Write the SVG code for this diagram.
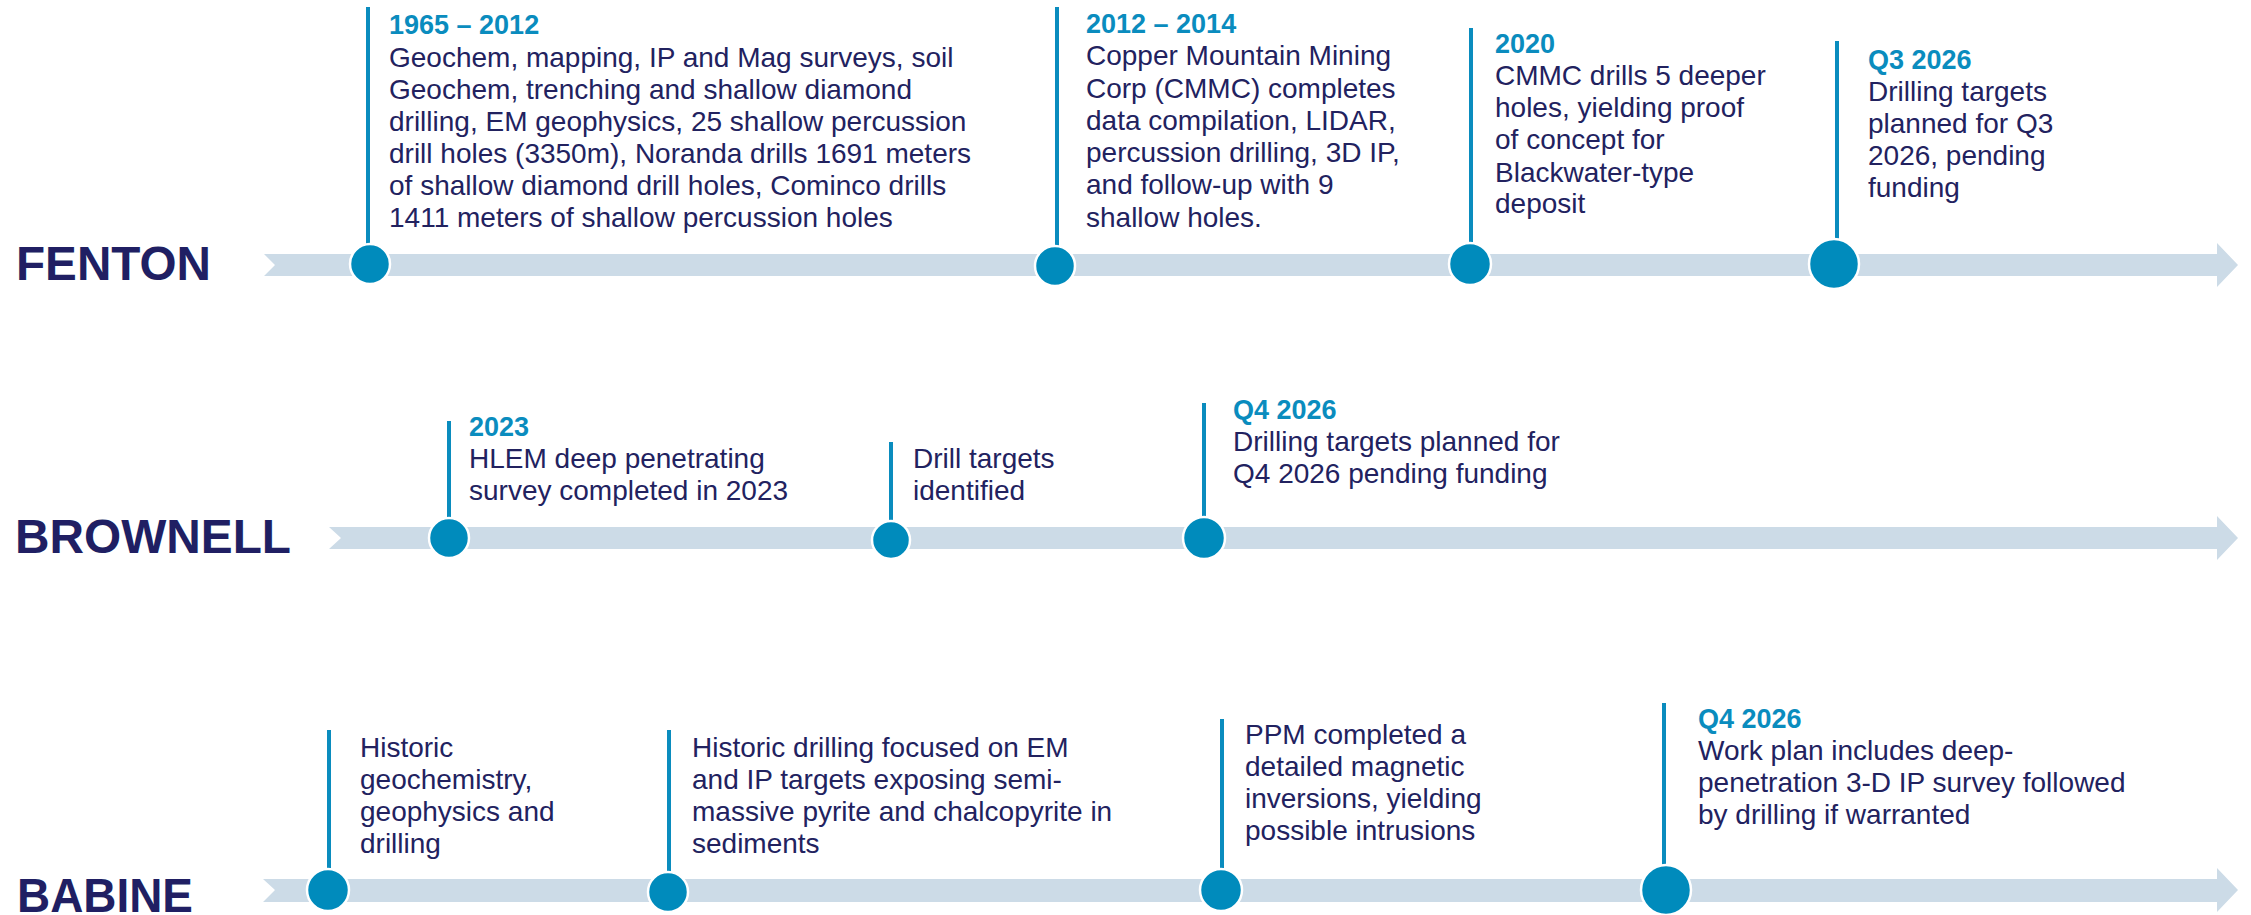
<svg xmlns="http://www.w3.org/2000/svg" width="2251" height="915" viewBox="0 0 2251 915">
<style>
.bar{fill:#CCDBE7}
.stem{stroke:#0A8CBE;stroke-width:4;fill:none}
.dot{fill:#008BBC;stroke:#FFFFFF;stroke-width:2.5}
.lbl{font-family:"Liberation Sans",Arial,sans-serif;font-weight:bold;font-size:48px;fill:#201F63}
.hd{font-family:"Liberation Sans",Arial,sans-serif;font-weight:bold;font-size:27px;fill:#0A8CBE}
.tx{font-family:"Liberation Sans",Arial,sans-serif;font-size:28px;fill:#22225F}
</style>
<rect width="2251" height="915" fill="#FFFFFF"/>
<g id="timelines">
<polygon class="bar" points="264,254 2217,254 2217,243 2238,265 2217,287 2217,276 264,276 275,265"/>
<polygon class="bar" points="329,527 2217,527 2217,516 2238,538 2217,560 2217,549 329,549 341,538"/>
<polygon class="bar" points="263,879 2217,879 2217,868 2238,890 2217,912 2217,902 263,902 275,890"/>
</g>
<g id="labels">
<text id="fenton" class="lbl" x="16" y="280" textLength="195" lengthAdjust="spacingAndGlyphs">FENTON</text>
<text id="brownell" class="lbl" x="15" y="553" textLength="276" lengthAdjust="spacingAndGlyphs">BROWNELL</text>
<text id="babine" class="lbl" x="17" y="912" textLength="176" lengthAdjust="spacingAndGlyphs">BABINE</text>
</g>
<g id="connectors">
<line class="stem" x1="368" y1="7" x2="368" y2="250"/>
<line class="stem" x1="1057" y1="7" x2="1057" y2="252"/>
<line class="stem" x1="1471" y1="28" x2="1471" y2="250"/>
<line class="stem" x1="1837" y1="41" x2="1837" y2="245"/>
<line class="stem" x1="449" y1="421" x2="449" y2="524"/>
<line class="stem" x1="891" y1="442" x2="891" y2="527"/>
<line class="stem" x1="1204" y1="403" x2="1204" y2="523"/>
<line class="stem" x1="329" y1="730" x2="329" y2="875"/>
<line class="stem" x1="669" y1="730" x2="669" y2="878"/>
<line class="stem" x1="1222" y1="719" x2="1222" y2="875"/>
<line class="stem" x1="1664" y1="703" x2="1664" y2="870"/>
</g>
<g id="fenton-1965">
<circle class="dot" cx="370" cy="264" r="20"/>
<text class="hd" x="389" y="34">1965 – 2012</text>
<text class="tx" x="389" y="67">Geochem, mapping, IP and Mag surveys, soil</text>
<text class="tx" x="389" y="99">Geochem, trenching and shallow diamond</text>
<text class="tx" x="389" y="131">drilling, EM geophysics, 25 shallow percussion</text>
<text class="tx" x="389" y="163">drill holes (3350m), Noranda drills 1691 meters</text>
<text class="tx" x="389" y="195">of shallow diamond drill holes, Cominco drills</text>
<text class="tx" x="389" y="227">1411 meters of shallow percussion holes</text>
</g>
<g id="fenton-2012">
<circle class="dot" cx="1055" cy="266" r="20"/>
<text class="hd" x="1086" y="33">2012 – 2014</text>
<text class="tx" x="1086" y="65">Copper Mountain Mining</text>
<text class="tx" x="1086" y="98">Corp (CMMC) completes</text>
<text class="tx" x="1086" y="130">data compilation, LIDAR,</text>
<text class="tx" x="1086" y="162">percussion drilling, 3D IP,</text>
<text class="tx" x="1086" y="194">and follow-up with 9</text>
<text class="tx" x="1086" y="227">shallow holes.</text>
</g>
<g id="fenton-2020">
<circle class="dot" cx="1470" cy="264" r="21"/>
<text class="hd" x="1495" y="53">2020</text>
<text class="tx" x="1495" y="85">CMMC drills 5 deeper</text>
<text class="tx" x="1495" y="117">holes, yielding proof</text>
<text class="tx" x="1495" y="149">of concept for</text>
<text class="tx" x="1495" y="182">Blackwater-type</text>
<text class="tx" x="1495" y="213">deposit</text>
</g>
<g id="fenton-q3-2026">
<circle class="dot" cx="1834" cy="264" r="25"/>
<text class="hd" x="1868" y="69">Q3 2026</text>
<text class="tx" x="1868" y="101">Drilling targets</text>
<text class="tx" x="1868" y="133">planned for Q3</text>
<text class="tx" x="1868" y="165">2026, pending</text>
<text class="tx" x="1868" y="197">funding</text>
</g>
<g id="brownell-2023">
<circle class="dot" cx="449" cy="538" r="20"/>
<text class="hd" x="469" y="436">2023</text>
<text class="tx" x="469" y="468">HLEM deep penetrating</text>
<text class="tx" x="469" y="500">survey completed in 2023</text>
</g>
<g id="brownell-targets">
<circle class="dot" cx="891" cy="540" r="19"/>
<text class="tx" x="913" y="468">Drill targets</text>
<text class="tx" x="913" y="500">identified</text>
</g>
<g id="brownell-q4-2026">
<circle class="dot" cx="1204" cy="538" r="21"/>
<text class="hd" x="1233" y="419">Q4 2026</text>
<text class="tx" x="1233" y="451">Drilling targets planned for</text>
<text class="tx" x="1233" y="483">Q4 2026 pending funding</text>
</g>
<g id="babine-historic">
<circle class="dot" cx="328" cy="890" r="21"/>
<text class="tx" x="360" y="757">Historic</text>
<text class="tx" x="360" y="789">geochemistry,</text>
<text class="tx" x="360" y="821">geophysics and</text>
<text class="tx" x="360" y="853">drilling</text>
</g>
<g id="babine-drilling">
<circle class="dot" cx="668" cy="892" r="20"/>
<text class="tx" x="692" y="757">Historic drilling focused on EM</text>
<text class="tx" x="692" y="789">and IP targets exposing semi-</text>
<text class="tx" x="692" y="821">massive pyrite and chalcopyrite in</text>
<text class="tx" x="692" y="853">sediments</text>
</g>
<g id="babine-ppm">
<circle class="dot" cx="1221" cy="890" r="21"/>
<text class="tx" x="1245" y="744">PPM completed a</text>
<text class="tx" x="1245" y="776">detailed magnetic</text>
<text class="tx" x="1245" y="808">inversions, yielding</text>
<text class="tx" x="1245" y="840">possible intrusions</text>
</g>
<g id="babine-q4-2026">
<circle class="dot" cx="1666" cy="890" r="25"/>
<text class="hd" x="1698" y="728">Q4 2026</text>
<text class="tx" x="1698" y="760">Work plan includes deep-</text>
<text class="tx" x="1698" y="792">penetration 3-D IP survey followed</text>
<text class="tx" x="1698" y="824">by drilling if warranted</text>
</g>
</svg>
